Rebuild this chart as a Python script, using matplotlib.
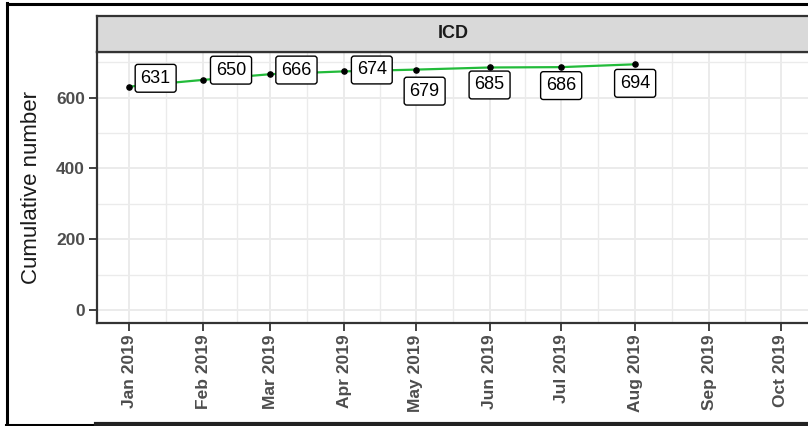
import datetime as dt
import matplotlib
matplotlib.use("Agg")
import matplotlib.pyplot as plt
import matplotlib.dates as mdates
from matplotlib.lines import Line2D

plt.rcParams['font.family'] = ['Liberation Sans', 'DejaVu Sans']

# data
months = ["2019-01", "2019-02", "2019-03", "2019-04", "2019-05", "2019-06", "2019-07", "2019-08"]
cumulative = [631, 650, 666, 674, 679, 685, 686, 694]
tick_months = ["2019-01", "2019-02", "2019-03", "2019-04", "2019-05",
               "2019-06", "2019-07", "2019-08", "2019-09", "2019-10"]
y_ticks = [0, 200, 400, 600]
panel_title = "ICD"
y_title = "Cumulative number"

# label offsets (points) -- mimics ggrepel placement
label_offsets = [(19, 6), (20, 7), (19, 3), (20, 1), (6.5, -15.5), (0, -12.6), (0, -13.3), (0, -13.7)]


def to_date(s):
    y, m = s.split("-")
    return dt.datetime(int(y), int(m), 1)


dates = [to_date(m) for m in months]
ticks = [to_date(m) for m in tick_months]

W, H = 808, 426
fig = plt.figure(figsize=(W / 100, H / 100), dpi=100)

# panel
left, right, top, bottom = 96.7, 810, 52, 322.5
ax = fig.add_axes([left / W, 1 - bottom / H, (right - left) / W, (bottom - top) / H])

xnum = mdates.date2num(ticks)
span = xnum[-1] - xnum[0]
ax.set_xlim(xnum[0] - 0.05 * span, xnum[-1] + 0.045 * span)
ymax = max(cumulative)
ax.set_ylim(-0.05 * ymax, ymax * 1.05)

# grid, ggplot theme_bw style
grid_c = "#EBEBEB"
for y in y_ticks:
    ax.axhline(y, color=grid_c, lw=1.4, zorder=0)
for y in [100, 300, 500, 700]:
    ax.axhline(y, color=grid_c, lw=1.0, zorder=0)
for x in xnum:
    ax.axvline(x, color=grid_c, lw=1.4, zorder=0)
for a, b in zip(xnum[:-1], xnum[1:]):
    ax.axvline((a + b) / 2, color=grid_c, lw=1.0, zorder=0)

ax.plot(dates, cumulative, color="#22BB3A", lw=1.6, zorder=2)
ax.scatter(dates, cumulative, s=14, color="black", zorder=3)

for d, v, off in zip(dates, cumulative, label_offsets):
    ax.annotate(str(v), (d, v), xytext=off, textcoords="offset points",
                ha="center", va="center", fontsize=13, color="black", zorder=4,
                bbox=dict(boxstyle="round,pad=0.3,rounding_size=0.15", fc="white",
                          ec="black", lw=1.0))

ax.set_xticks(xnum)
ax.set_xticklabels([t.strftime("%b %Y") for t in ticks], rotation=90,
                   fontsize=12.5, fontweight="bold", color="#4D4D4D")
ax.set_yticks(y_ticks)
ax.set_yticklabels([str(v) for v in y_ticks], fontsize=12.5, fontweight="bold", color="#4D4D4D")
ax.tick_params(axis="both", length=5.5, width=1.3, color="#333333", pad=3)
ax.set_ylabel(y_title, fontsize=16, color="#1A1A1A", labelpad=10)

for s in ax.spines.values():
    s.set_color("#333333")
    s.set_linewidth(1.6)

# facet strip
sax = fig.add_axes([left / W, 1 - top / H, (right - left) / W, (top - 16) / H])
sax.set_facecolor("#D9D9D9")
sax.set_xticks([])
sax.set_yticks([])
for s in sax.spines.values():
    s.set_color("#333333")
    s.set_linewidth(1.6)
sax.text(0.5, 0.5, panel_title, ha="center", va="center", fontsize=13,
         fontweight="bold", color="#1A1A1A", transform=sax.transAxes)

# outer screenshot frame
def px_line(x0, y0, x1, y1, color, lw):
    fig.add_artist(Line2D([x0 / W, x1 / W], [1 - y0 / H, 1 - y1 / H],
                          color=color, lw=lw, transform=fig.transFigure))

px_line(7, 4, 808, 4, "black", 2.2)
px_line(7, 3, 7, 425, "black", 2.2)
px_line(6, 424.5, 97, 424.5, "black", 2.2)
px_line(96, 423.5, 808, 423.5, "#222222", 3)

fig.savefig("out.png", dpi=100)
